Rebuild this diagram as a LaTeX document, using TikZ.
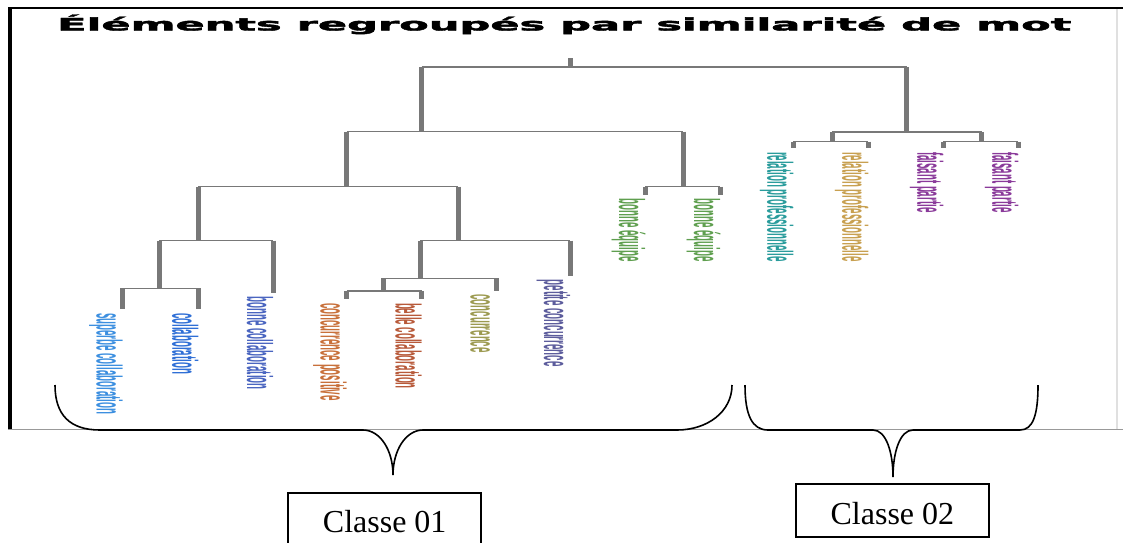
\documentclass[tikz,border=0pt]{standalone}
\usepackage{fontspec}
\usepackage{graphicx}
\usetikzlibrary{calc}
\newfontfamily\titlefont{DejaVu Sans}[BoldFeatures={FakeBold=2}]
\newfontfamily\leaffont{Liberation Sans}
\newfontfamily\classfont{Liberation Serif}
\definecolor{treegray}{HTML}{787878}
\definecolor{cSup}{HTML}{3C8FE0}
\definecolor{cCol}{HTML}{2F6FD6}
\definecolor{cBon}{HTML}{4A65C0}
\definecolor{cPos}{HTML}{C8703A}
\definecolor{cBel}{HTML}{B85A3A}
\definecolor{cCon}{HTML}{9C9A50}
\definecolor{cPet}{HTML}{5C5C9C}
\definecolor{cEqu}{HTML}{5F9F4F}
\definecolor{cRelA}{HTML}{2A9C9C}
\definecolor{cRelB}{HTML}{C8A050}
\definecolor{cFai}{HTML}{8A3A9A}
\begin{document}
\begin{tikzpicture}[x=1pt,y=-1pt,
  hbar/.style={draw=treegray, line width=1.4pt},
  vbar/.style={draw=treegray, line width=5pt},
  leaflabel/.style={rotate=-90, anchor=base west, inner sep=0pt,
    font=\leaffont\bfseries\fontsize{36}{36}\selectfont},
  brace/.style={draw=black, line width=1.6pt},
  classbox/.style={draw=black, line width=1.8pt, anchor=north west,
    font=\classfont\fontsize{32}{32}\selectfont,
    minimum width=193pt, minimum height=52.7pt,
    text height=27pt, text depth=0pt, inner sep=0pt}
]
\useasboundingbox (0,0) rectangle (1123,542);
\clip (0,0) rectangle (1123,542);
\fill[white] (0,0) rectangle (1123,542);

% window frame around the chart
\draw[black, line width=2pt] (8,8) -- (1123,8);
\draw[black, line width=3.5pt] (10,8) -- (10,429);
\draw[black!40, line width=1.5pt] (8,429.5) -- (1123,429.5);
\draw[black!12, line width=2pt] (1117,9) -- (1117,429);

% title
\node[anchor=base west, inner sep=0pt] (title) at (57,30.5)
  {\resizebox{1014pt}{16pt}{\titlefont\bfseries Éléments regroupés par similarité de mot}};

% dendrogram: upper levels
\draw[vbar] (570,58) -- (570,67);
\draw[hbar] (421.7,67) -- (906.7,67);
\draw[vbar] (421.7,67) -- (421.7,131.7);
\draw[vbar] (906.7,67) -- (906.7,132);
\draw[hbar] (346.7,131.7) -- (683.3,131.7);
\draw[vbar] (346.7,131.7) -- (346.7,186.7);
\draw[vbar] (683.3,131.7) -- (683.3,186.7);
\draw[hbar] (198,186.7) -- (458,186.7);
\draw[hbar] (645,186.7) -- (720,186.7);
\draw[vbar] (198,186.7) -- (198,240.7);
\draw[vbar] (458,186.7) -- (458,240.7);
\draw[hbar] (159,240.7) -- (273,240.7);
\draw[hbar] (420,240.7) -- (570,240.7);
\draw[vbar] (159,240.7) -- (159,288.3);
\draw[hbar] (122.7,288.3) -- (198.3,288.3);
\draw[vbar] (420,240.7) -- (420,278.3);
\draw[hbar] (383.3,278.3) -- (496.7,278.3);
\draw[vbar] (383.3,278.3) -- (383.3,291);
\draw[hbar] (346.7,291) -- (421.7,291);
\draw[hbar] (832.3,132) -- (981.7,132);
\draw[vbar] (832.3,132) -- (832.3,141.7);
\draw[vbar] (981.7,132) -- (981.7,141.7);
\draw[hbar] (793.3,141.7) -- (868.3,141.7);
\draw[hbar] (943.3,141.7) -- (1018.3,141.7);

% leaves: stub end points
\coordinate (l1) at (122.7,309.3);
\coordinate (l2) at (198.3,309.3);
\coordinate (l3) at (273,293);
\coordinate (l4) at (346.7,299.3);
\coordinate (l5) at (421.7,299.3);
\coordinate (l6) at (496.7,290.7);
\coordinate (l7) at (570,276);
\coordinate (l8) at (645,195);
\coordinate (l9) at (720,195);
\coordinate (l10) at (793.3,148.3);
\coordinate (l11) at (868.3,148.3);
\coordinate (l12) at (943.3,148.3);
\coordinate (l13) at (1018.3,148.3);

% leaf stubs
\draw[vbar] (l1 |- 0,288.3) -- (l1);
\draw[vbar] (l2 |- 0,288.3) -- (l2);
\draw[vbar] (l3 |- 0,240.7) -- (l3);
\draw[vbar] (l4 |- 0,291) -- (l4);
\draw[vbar] (l5 |- 0,291) -- (l5);
\draw[vbar] (l6 |- 0,278.3) -- (l6);
\draw[vbar] (l7 |- 0,240.7) -- (l7);
\draw[vbar] (l8 |- 0,186.7) -- (l8);
\draw[vbar] (l9 |- 0,186.7) -- (l9);
\draw[vbar] (l10 |- 0,141.7) -- (l10);
\draw[vbar] (l11 |- 0,141.7) -- (l11);
\draw[vbar] (l12 |- 0,141.7) -- (l12);
\draw[vbar] (l13 |- 0,141.7) -- (l13);

% leaf labels, condensed and read top to bottom
\node[leaflabel, text=cSup] (t1) at ($(l1)+(-26,3.5)$) {\scalebox{0.27}[1]{superbe collaboration}};
\node[leaflabel, text=cCol] (t2) at ($(l2)+(-26,3.5)$) {\scalebox{0.27}[1]{collaboration}};
\node[leaflabel, text=cBon] (t3) at ($(l3)+(-26,3.5)$) {\scalebox{0.27}[1]{bonne collaboration}};
\node[leaflabel, text=cPos] (t4) at ($(l4)+(-26,3.5)$) {\scalebox{0.27}[1]{concurrence positive}};
\node[leaflabel, text=cBel] (t5) at ($(l5)+(-26,3.5)$) {\scalebox{0.27}[1]{belle collaboration}};
\node[leaflabel, text=cCon] (t6) at ($(l6)+(-26,3.5)$) {\scalebox{0.27}[1]{concurrence}};
\node[leaflabel, text=cPet] (t7) at ($(l7)+(-26,3.5)$) {\scalebox{0.27}[1]{petite concurrence}};
\node[leaflabel, text=cEqu] (t8) at ($(l8)+(-26,3.5)$) {\scalebox{0.27}[1]{bonne équipe}};
\node[leaflabel, text=cEqu] (t9) at ($(l9)+(-26,3.5)$) {\scalebox{0.27}[1]{bonne équipe}};
\node[leaflabel, text=cRelA] (t10) at ($(l10)+(-26,3.5)$) {\scalebox{0.27}[1]{relation professionnelle}};
\node[leaflabel, text=cRelB] (t11) at ($(l11)+(-26,3.5)$) {\scalebox{0.27}[1]{relation professionnelle}};
\node[leaflabel, text=cFai] (t12) at ($(l12)+(-26,3.5)$) {\scalebox{0.27}[1]{faisant partie}};
\node[leaflabel, text=cFai] (t13) at ($(l13)+(-26,3.5)$) {\scalebox{0.27}[1]{faisant partie}};

% curly braces grouping the two classes
\draw[brace] (55,385) .. controls (55,415) and (70,430) .. (100,430) -- (363,430)
  .. controls (380,430) and (393,450) .. (393,475)
  .. controls (393,450) and (406,430) .. (423,430) -- (677,430)
  .. controls (707,430) and (732,412) .. (732,385);
\draw[brace] (745,385) .. controls (745,415) and (752,430) .. (768,430) -- (873,430)
  .. controls (886,430) and (893,452) .. (893,477)
  .. controls (893,452) and (900,430) .. (913,430) -- (1020,430)
  .. controls (1033,430) and (1038,415) .. (1038,385);

% class boxes
\node[classbox] (classA) at (287.3,491.7) {Classe 01};
\node[classbox] (classB) at (795,483.3) {Classe 02};
\end{tikzpicture}
\end{document}
